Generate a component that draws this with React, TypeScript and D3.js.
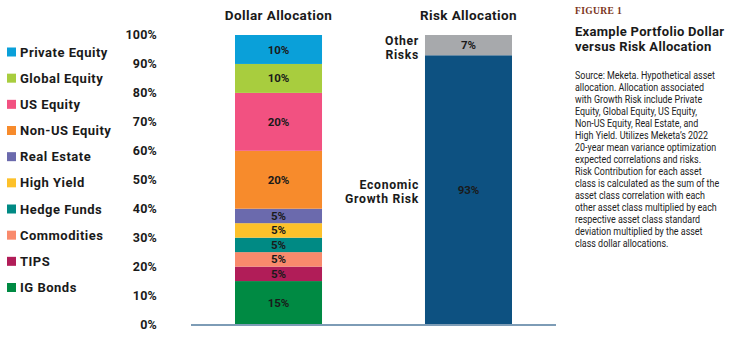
import React from "react";
import * as d3 from "d3";

const assetClasses = ["IG Bonds", "TIPS", "Commodities", "Hedge Funds", "High Yield", "Real Estate", "Non-US Equity", "US Equity", "Global Equity", "Private Equity"];
const dollarValues = [15, 5, 5, 5, 5, 5, 20, 20, 10, 10];
const assetColors = ["#008a43", "#b11d58", "#f98a6c", "#008a84", "#fdc12a", "#6b6aad", "#f78b2c", "#f25181", "#a8cd3e", "#0aa0d9"];

const riskClasses = ["Economic Growth Risk", "Other Risks"];
const riskValues = [93, 7];
const riskColors = ["#0d5181", "#a7a9ac"];
const riskLabelLines = [["Economic", "Growth Risk"], ["Other", "Risks"]];

const barNames = ["Dollar Allocation", "Risk Allocation"];
const yTicks = [0, 10, 20, 30, 40, 50, 60, 70, 80, 90, 100];

const bodyLines = [
  "Source: Meketa. Hypothetical asset",
  "allocation. Allocation associated",
  "with Growth Risk include Private",
  "Equity, Global Equity, US Equity,",
  "Non-US Equity, Real Estate, and",
  "High Yield. Utilizes Meketa\u2019s 2022",
  "20-year mean variance optimization",
  "expected correlations and risks.",
  "Risk Contribution for each asset",
  "class is calculated as the sum of the",
  "asset class correlation with each",
  "other asset class multiplied by each",
  "respective asset class standard",
  "deviation multiplied by the asset",
  "class dollar allocations.",
];

const BOLD = "Roboto, 'Open Sans', sans-serif";

export default function App() {
  const W = 729, H = 338;
  const y = d3.scaleLinear().domain([0, 100]).range([324.5, 35]);
  const x = d3.scaleBand().domain(barNames).range([235, 512]).paddingInner(0.542).paddingOuter(0);
  const bw = x.bandwidth();

  const stackSegs = (vals: number[]) => {
    const cum = d3.cumsum(vals);
    return vals.map((v, i) => ({ v, y0: cum[i] - v, y1: cum[i] }));
  };
  const dollarSegs = stackSegs(dollarValues);
  const riskSegs = stackSegs(riskValues);
  const legendOrder = assetClasses.map((_, i) => i).reverse();
  const legendY = d3.scaleLinear().domain([0, 9]).range([52, 287.5]);
  const xd = x("Dollar Allocation")!;
  const xr = x("Risk Allocation")!;

  return (
    <svg width={W} height={H} style={{ position: "absolute", left: 0, top: 0, background: "#fff" }}>
      {legendOrder.map((idx, k) => (
        <g key={idx} transform={`translate(0,${legendY(k)})`}>
          <rect x={7} y={-4.5} width={9} height={9} fill={assetColors[idx]} />
          <text x={20} dy="0.35em" fontFamily={BOLD} fontWeight={700} fontSize={13} fill="#1a1a1a" letterSpacing={0.5}>
            {assetClasses[idx]}
          </text>
        </g>
      ))}
      {yTicks.map((t) => (
        <text key={t} x={157} y={y(t)} dy="0.35em" textAnchor="end" fontFamily={BOLD} fontWeight={700} fontSize={12.5} fill="#1a1a1a" letterSpacing={0.2}>
          {t}%
        </text>
      ))}
      {barNames.map((b) => (
        <text key={b} x={x(b)! + bw / 2} y={15.5} dy="0.35em" textAnchor="middle" fontFamily={BOLD} fontWeight={700} fontSize={13.5} fill="#1a1a1a" letterSpacing={0.4}>
          {b}
        </text>
      ))}
      {dollarSegs.map((s, i) => (
        <g key={i}>
          <rect x={xd} y={y(s.y1)} width={bw} height={y(s.y0) - y(s.y1)} fill={assetColors[i]} />
          <text x={xd + bw / 2} y={(y(s.y0) + y(s.y1)) / 2} dy="0.35em" textAnchor="middle" fontFamily={BOLD} fontWeight={700} fontSize={11.5} fill="#1a1a1a">
            {s.v}%
          </text>
        </g>
      ))}
      {riskSegs.map((s, i) => (
        <g key={i}>
          <rect x={xr} y={y(s.y1)} width={bw} height={y(s.y0) - y(s.y1)} fill={riskColors[i]} />
          <text x={xr + bw / 2} y={(y(s.y0) + y(s.y1)) / 2} dy="0.35em" textAnchor="middle" fontFamily={BOLD} fontWeight={700} fontSize={11.5} fill="#1a1a1a">
            {s.v}%
          </text>
        </g>
      ))}
      {riskLabelLines.map((lines, i) => {
        const top = i === 1 ? 41 : 185;
        return lines.map((l, j) => (
          <text key={`${i}-${j}`} x={419} y={top + j * 13.8} dy="0.35em" textAnchor="end" fontFamily={BOLD} fontWeight={700} fontSize={12.2} fill="#1a1a1a" letterSpacing={0.7}>
            {l}
          </text>
        ));
      })}
      <line x1={191} x2={556} y1={325} y2={325} stroke="#7d9cb6" strokeWidth={2} />
      <text x={575} y={14} fontFamily="'Liberation Serif', serif" fontWeight={700} fontSize={9.5} fill="#7b3420" letterSpacing={0.4}>
        FIGURE 1
      </text>
      <text x={575} y={31} dy="0.35em" fontFamily={BOLD} fontWeight={700} fontSize={13} fill="#1a1a1a" letterSpacing={0.3}>
        Example Portfolio Dollar
      </text>
      <text x={575} y={46.5} dy="0.35em" fontFamily={BOLD} fontWeight={700} fontSize={13} fill="#1a1a1a" letterSpacing={0.3}>
        versus Risk Allocation
      </text>
      <g transform="translate(575,0) scale(0.85,1)">
        {bodyLines.map((l, i) => (
          <text key={i} x={0} y={75 + i * 12} dy="0.35em" fontFamily={BOLD} fontSize={10.5} fill="#222">
            {l}
          </text>
        ))}
      </g>
    </svg>
  );
}
